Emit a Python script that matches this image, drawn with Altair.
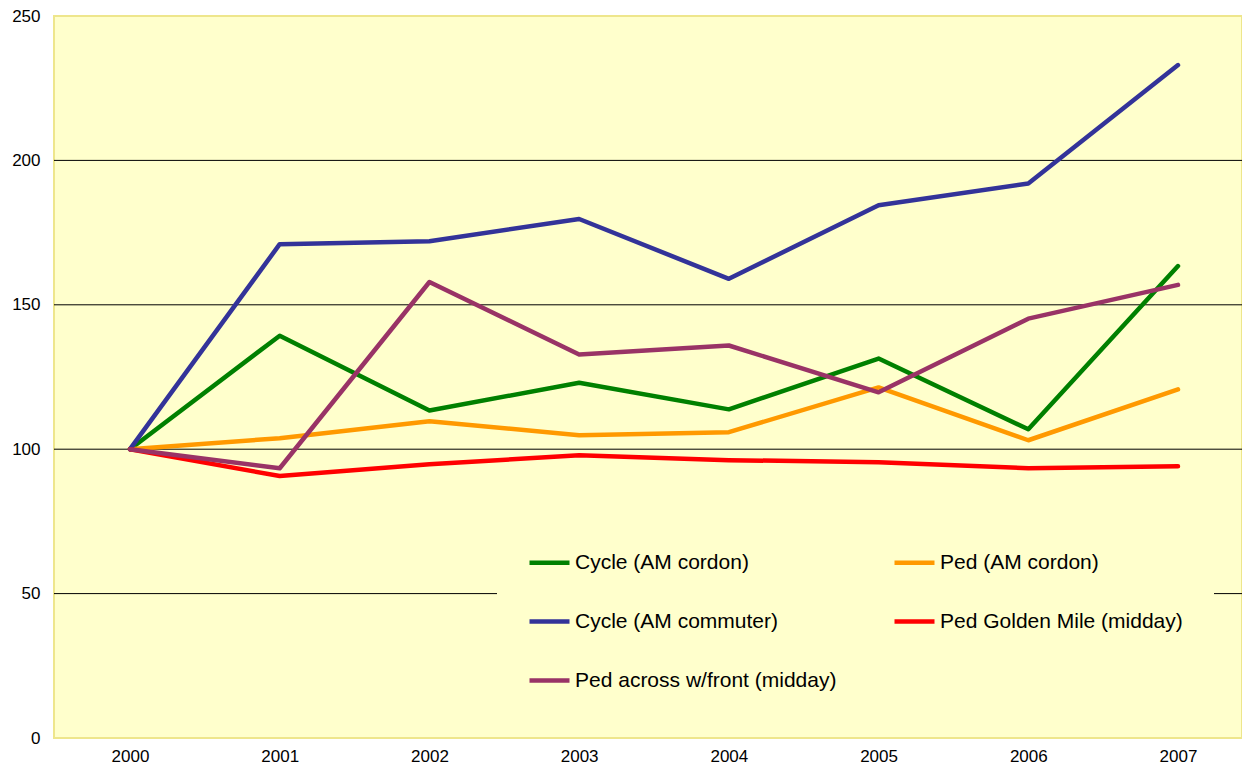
import altair as alt
import pandas as pd

years = ["2000", "2001", "2002", "2003", "2004", "2005", "2006", "2007"]
cycle_am_cordon = [100, 139.3, 113.4, 123.0, 113.8, 131.4, 106.9, 163.4]
cycle_am_commuter = [100, 171.0, 172.0, 179.7, 159.0, 184.5, 192.0, 233.0]
ped_am_cordon = [100, 103.8, 109.7, 104.8, 105.9, 121.4, 103.1, 120.7]
ped_golden_mile = [100, 90.7, 94.8, 97.9, 96.2, 95.5, 93.4, 94.1]
ped_across_front = [100, 93.4, 157.9, 132.8, 135.9, 119.7, 145.2, 156.9]
y_ticks = [0, 50, 100, 150, 200, 250]
grid_values = [50, 100, 150, 200]

series_names = [
    "Cycle (AM cordon)",
    "Ped (AM cordon)",
    "Cycle (AM commuter)",
    "Ped Golden Mile (midday)",
    "Ped across w/front (midday)",
]
series_values = [cycle_am_cordon, ped_am_cordon, cycle_am_commuter, ped_golden_mile, ped_across_front]
series_colors = ["#008000", "#FF9900", "#333399", "#FF0000", "#993366"]

W = 1188
H = 722

rows = []
for i, (name, vals) in enumerate(zip(series_names, series_values)):
    for y, v in zip(years, vals):
        rows.append({"Year": y, "Value": v, "Series": name, "order": i})
df = pd.DataFrame(rows)
grid_df = pd.DataFrame({"Value": grid_values})

y_scale = alt.Scale(domain=[0, 250], nice=False)
y_axis = alt.Axis(
    title=None,
    values=y_ticks,
    ticks=False,
    domain=False,
    grid=False,
    labelFont="Liberation Sans",
    labelFontSize=17,
    labelColor="#000000",
    labelPadding=14,
)

grid = (
    alt.Chart(grid_df)
    .mark_rule(color="#000000", strokeWidth=1)
    .encode(
        y=alt.Y("Value:Q", scale=y_scale, axis=y_axis),
        x=alt.value(0),
        x2=alt.value(W),
    )
)

lines = (
    alt.Chart(df)
    .mark_line(strokeWidth=4.5, strokeCap="round", strokeJoin="round")
    .encode(
        x=alt.X(
            "Year:O",
            sort=years,
            scale=alt.Scale(type="point", range=[76, 1124], padding=0),
            axis=alt.Axis(
                title=None,
                labelAngle=0,
                ticks=False,
                domain=False,
                labelFont="Liberation Sans",
                labelFontSize=17,
                labelColor="#000000",
                labelPadding=10,
                grid=False,
            ),
        ),
        y=alt.Y("Value:Q", scale=y_scale, axis=y_axis),
        color=alt.Color(
            "Series:N",
            sort=series_names,
            scale=alt.Scale(domain=series_names, range=series_colors),
            legend=alt.Legend(
                title=None,
                orient="none",
                legendX=443,
                legendY=494,
                columns=2,
                direction="horizontal",
                symbolType="stroke",
                symbolSize=1600,
                symbolStrokeWidth=4.5,
                labelFont="Liberation Sans",
                labelFontSize=21,
                labelColor="#000000",
                labelOffset=3,
                labelLimit=400,
                columnPadding=48,
                rowPadding=26,
                padding=30,
                fillColor="#FFFFCC",
                strokeColor="#FFFFCC",
            ),
        ),
        order=alt.Order("order:Q"),
        detail="Series:N",
    )
)

chart = (
    alt.layer(grid, lines)
    .properties(
        width=W,
        height=H,
        autosize=alt.AutoSizeParams(type="none"),
        padding={"left": 46, "top": 8, "right": 0, "bottom": 26},
        background="#FFFFFF",
    )
    .configure_view(fill="#FFFFCC", stroke="#EEE68C", strokeWidth=2)
)

chart.save("out.html", embed_options={"renderer": "svg", "actions": False})
